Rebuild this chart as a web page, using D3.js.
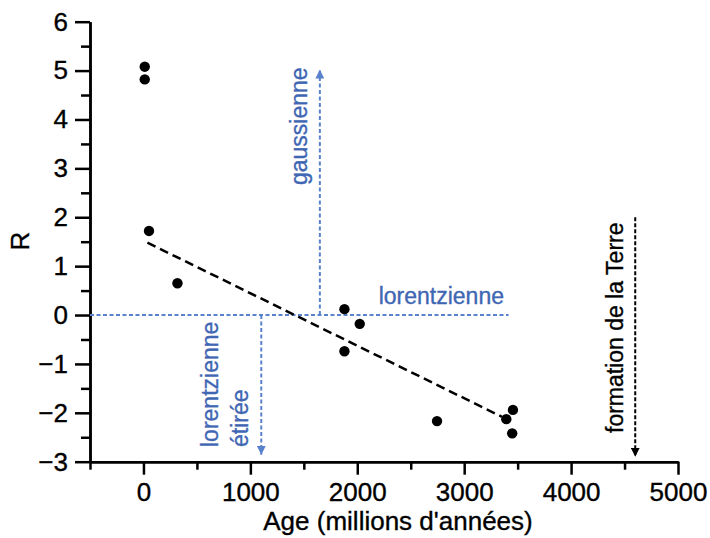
<!DOCTYPE html>
<html>
<head>
<meta charset="utf-8">
<style>
  body { margin: 0; background: #fff; }
  svg text { font-family: "Liberation Sans", Arial, sans-serif; stroke-width: 0.35; }
  .axis path, .axis line { stroke: #000; stroke-width: 2.5; }
  .axis text { font-size: 26px; fill: #000; stroke: #000; }
</style>
<script src="https://d3js.org/d3.v7.min.js"></script>
</head>
<body>
<svg width="710" height="538"></svg>
<script>
  // ages (millions d'années) and R values
  const ages = [12, 12, 52, 318, 1880, 2023, 1880, 2746, 3456, 3394, 3449];
  const rValues = [5.08, 4.82, 1.72, 0.65, 0.12, -0.18, -0.74, -2.17, -1.94, -2.13, -2.42];

  // dashed fit line
  const fitRange = [37, 3353];
  const fitIntercept = 1.52;
  const fitSlope = -0.001074;

  const xMajor = [0, 1000, 2000, 3000, 4000, 5000];
  const xMinor = [-500, 500, 1500, 2500, 3500, 4500];
  const yMajor = [-3, -2, -1, 0, 1, 2, 3, 4, 5, 6];
  const yMinor = [-2.5, -1.5, -0.5, 0.5, 1.5, 2.5, 3.5, 4.5, 5.5];

  // annotations
  const zeroLine = [-500, 3415];
  const gaussX = 1650, gaussTop = 5.02;
  const etireeX = 1102, etireeBottom = -2.86;
  const terreX = 4600, terreRange = [2.0, -2.9];

  const blue = '#5a82cc';
  const blueText = '#3f66b3';

  const svg = d3.select('svg');
  const x = d3.scaleLinear().domain([-500, 5000]).range([90, 678]);
  const y = d3.scaleLinear().domain([-3, 6]).range([461.7, 21.7]);

  const defs = svg.append('defs');
  function arrow(id, color) {
    defs.append('marker')
      .attr('id', id)
      .attr('viewBox', '0 0 10 10')
      .attr('refX', 10).attr('refY', 5)
      .attr('markerWidth', 9).attr('markerHeight', 9)
      .attr('markerUnits', 'userSpaceOnUse')
      .attr('orient', 'auto')
      .append('path')
      .attr('d', 'M0,0 L10,5 L0,10 Z')
      .attr('fill', color);
  }
  arrow('arrBlue', blue);
  arrow('arrBlack', '#000');

  // axes
  svg.append('g').attr('class', 'axis')
    .attr('transform', `translate(0,${y(-3)})`)
    .call(d3.axisBottom(x).tickValues(xMinor).tickSize(8).tickSizeOuter(0).tickFormat(''));
  svg.append('g').attr('class', 'axis')
    .attr('transform', `translate(0,${y(-3)})`)
    .call(d3.axisBottom(x).tickValues(xMajor).tickSize(13).tickSizeOuter(0).tickPadding(8).tickFormat(d3.format('d')));
  svg.append('g').attr('class', 'axis')
    .attr('transform', `translate(${x(-500)},0)`)
    .call(d3.axisLeft(y).tickValues(yMinor).tickSize(9).tickSizeOuter(0).tickFormat(''));
  svg.append('g').attr('class', 'axis')
    .attr('transform', `translate(${x(-500)},0)`)
    .call(d3.axisLeft(y).tickValues(yMajor).tickSize(15).tickSizeOuter(0).tickPadding(7).tickFormat(d3.format('d')));

  svg.append('text')
    .attr('transform', 'translate(29,241) rotate(-90)')
    .attr('text-anchor', 'middle')
    .attr('font-size', 26).attr('stroke', '#000')
    .text('R');
  svg.append('text')
    .attr('x', 398).attr('y', 530)
    .attr('text-anchor', 'middle')
    .attr('font-size', 26).attr('stroke', '#000')
    .text("Age (millions d'années)");

  // blue guide lines
  svg.append('line')
    .attr('x1', x(zeroLine[0])).attr('x2', x(zeroLine[1]))
    .attr('y1', y(0)).attr('y2', y(0))
    .attr('stroke', blue).attr('stroke-width', 2).attr('stroke-dasharray', '4,2.5');
  svg.append('line')
    .attr('x1', x(gaussX)).attr('x2', x(gaussX))
    .attr('y1', y(0)).attr('y2', y(gaussTop))
    .attr('stroke', blue).attr('stroke-width', 2).attr('stroke-dasharray', '4,2.5')
    .attr('marker-end', 'url(#arrBlue)');
  svg.append('line')
    .attr('x1', x(etireeX)).attr('x2', x(etireeX))
    .attr('y1', y(0)).attr('y2', y(etireeBottom))
    .attr('stroke', blue).attr('stroke-width', 2).attr('stroke-dasharray', '4,2.5')
    .attr('marker-end', 'url(#arrBlue)');

  const blueLabels = svg.append('g')
    .attr('font-size', 23).attr('fill', blueText).attr('stroke', blueText);
  blueLabels.append('text')
    .attr('transform', 'translate(307,185) rotate(-90)')
    .text('gaussienne');
  blueLabels.append('text')
    .attr('x', 504).attr('y', 304)
    .attr('text-anchor', 'end')
    .text('lorentzienne');
  blueLabels.append('text')
    .attr('transform', 'translate(218,447) rotate(-90)')
    .text('lorentzienne');
  blueLabels.append('text')
    .attr('transform', 'translate(248,447) rotate(-90)')
    .text('étirée');

  // formation de la Terre
  svg.append('line')
    .attr('x1', x(terreX)).attr('x2', x(terreX))
    .attr('y1', y(terreRange[0])).attr('y2', y(terreRange[1]))
    .attr('stroke', '#000').attr('stroke-width', 2).attr('stroke-dasharray', '4,2')
    .attr('marker-end', 'url(#arrBlack)');
  svg.append('text')
    .attr('transform', 'translate(623,433) rotate(-90)')
    .attr('font-size', 23).attr('fill', '#000').attr('stroke', '#000')
    .text('formation de la Terre');

  // fit line
  svg.append('line')
    .attr('x1', x(fitRange[0])).attr('y1', y(fitIntercept + fitSlope * fitRange[0]))
    .attr('x2', x(fitRange[1])).attr('y2', y(fitIntercept + fitSlope * fitRange[1]))
    .attr('stroke', '#000').attr('stroke-width', 2.5).attr('stroke-dasharray', '9,5');

  // points
  svg.selectAll('.dot')
    .data(ages.map((a, i) => ({ age: a, r: rValues[i] })))
    .enter()
    .append('circle')
    .attr('class', 'dot')
    .attr('cx', d => x(d.age))
    .attr('cy', d => y(d.r))
    .attr('r', 5.2)
    .attr('fill', '#000');
</script>
</body>
</html>
